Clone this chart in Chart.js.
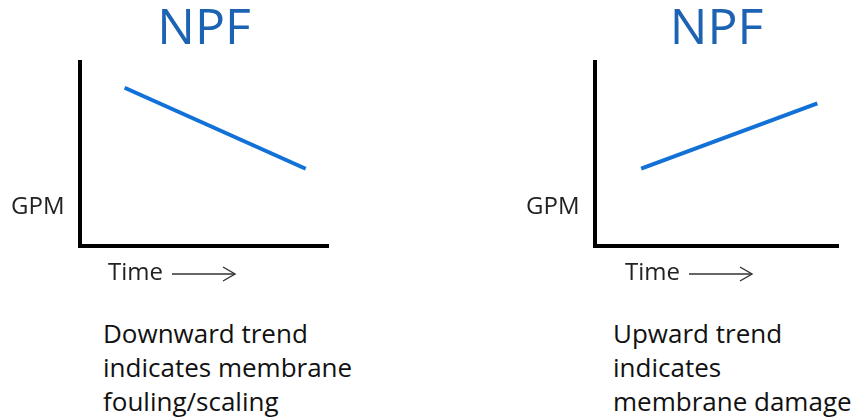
<!DOCTYPE html>
<html>
<head>
<meta charset="utf-8">
<script src="https://cdn.jsdelivr.net/npm/chart.js@4.4.1/dist/chart.umd.min.js"></script>
<style>
    body { margin: 0; background: #fff; font-family: "Open Sans", sans-serif; }
    #page { position: relative; width: 865px; height: 420px; overflow: hidden; }
    .box { position: absolute; top: 0; width: 430px; height: 262px; }
    .lbl { position: absolute; color: #222; font-size: 24px; white-space: nowrap; line-height: 1; }
    .note { position: absolute; color: #111; font-size: 26px; line-height: 34px; white-space: nowrap; }
    .arrow { display: inline-block; width: 66px; height: 16px; vertical-align: middle; margin-left: 8px; }
</style>
</head>
<body>
<div id="page">
    <div class="box" style="left:0"><canvas id="npfDown"></canvas></div>
    <div class="box" style="left:430px"><canvas id="npfUp"></canvas></div>

    <div class="lbl" style="left:11px; top:193px">GPM</div>
    <div class="lbl" style="left:108px; top:259px">Time<svg class="arrow" viewBox="0 0 66 16"><line x1="1" y1="8" x2="64" y2="8" stroke="#333" stroke-width="1.4"/><polyline points="52,1 64,8 52,15" fill="none" stroke="#333" stroke-width="1.4"/></svg></div>
    <div class="lbl" style="left:526px; top:193px">GPM</div>
    <div class="lbl" style="left:625px; top:259px">Time<svg class="arrow" viewBox="0 0 66 16"><line x1="1" y1="8" x2="64" y2="8" stroke="#333" stroke-width="1.4"/><polyline points="52,1 64,8 52,15" fill="none" stroke="#333" stroke-width="1.4"/></svg></div>

    <div class="note" style="left:103px; top:316px">Downward trend<br>indicates membrane<br>fouling/scaling</div>
    <div class="note" style="left:613px; top:316px">Upward trend<br>indicates<br>membrane damage</div>
</div>

<script>
// time axis runs 0..10, GPM axis 0..10 (no units shown in picture)
var timeDown = [1.8, 9.1];
var gpmDown = [8.6, 4.2];

var timeUp = [1.9, 9.15];
var gpmUp = [4.2, 7.75];

var titleText = 'NPF';

/////////////////////////////////////////////////////////////////////////////////////

function makePoints(xs, ys) {
    let pts = [];
    xs.forEach((x, i) => pts.push({ x: x, y: ys[i] }));
    return pts;
}

function trendChart(id, xs, ys, pad) {
    const data = {
        datasets: [{
            data: makePoints(xs, ys),
            borderColor: '#1271d6',
            borderWidth: 4,
            pointRadius: 0,
            borderCapStyle: 'butt',
            fill: false
        }]
    };

    const config = {
        type: 'line',
        data: data,
        options: {
            responsive: true,
            maintainAspectRatio: false,
            animation: false,
            layout: { padding: pad },
            plugins: {
                legend: { display: false },
                tooltip: { enabled: false },
                title: {
                    display: true,
                    fullSize: false,
                    text: titleText,
                    color: '#1d63b3',
                    font: { family: 'Open Sans', size: 50, weight: 'normal' },
                    padding: { top: 0, bottom: 2 }
                }
            },
            scales: {
                x: {
                    type: 'linear', min: 0, max: 10,
                    grid: { display: false },
                    ticks: { display: false },
                    border: { color: '#000', width: 4 }
                },
                y: {
                    type: 'linear', min: 0, max: 10,
                    grid: { display: false },
                    ticks: { display: false },
                    border: { color: '#000', width: 4 }
                }
            }
        }
    };

    return new Chart(document.getElementById(id), config);
}

document.addEventListener('DOMContentLoaded', function() {
    trendChart('npfDown', timeDown, gpmDown, { left: 72, right: 102, bottom: 8 });
    trendChart('npfUp', timeUp, gpmUp, { left: 157, right: 22, bottom: 8 });
});
</script>
</body>
</html>
